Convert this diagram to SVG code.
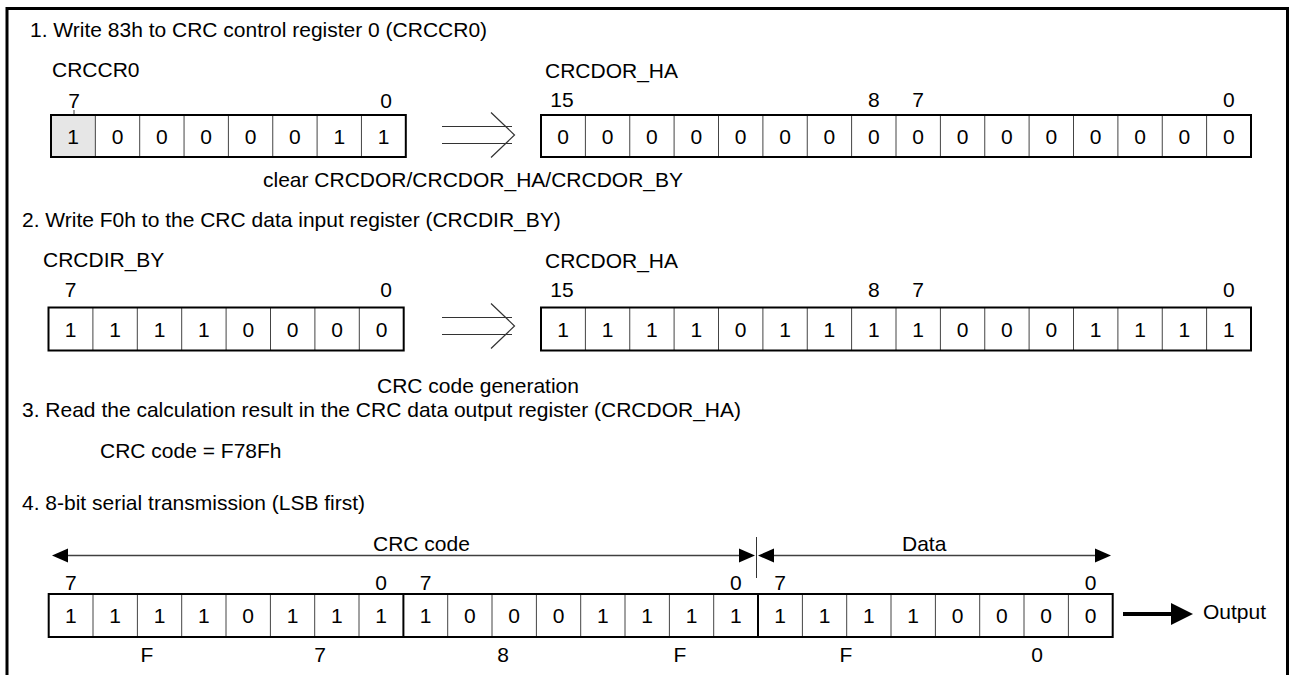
<svg xmlns="http://www.w3.org/2000/svg" width="1290" height="675" viewBox="0 0 1290 675">
<style>
.t{font-family:"Liberation Sans",Arial,sans-serif;font-size:21px;fill:#000}
.c{text-anchor:middle}
.box{fill:none;stroke:#000;stroke-width:2}
.dv{stroke:#444;stroke-width:1}
.bd{stroke:#000;stroke-width:2}
.thin{fill:none;stroke:#333;stroke-width:1.2}
.ln{stroke:#404040;stroke-width:1.5}
.hd{fill:#000}
</style>
<rect width="1290" height="675" fill="#fff"/>
<path d="M7,680 V8.5 H1287.5 V680" fill="none" stroke="#000" stroke-width="3"/>

<g id="step1">
<text class="t" x="30" y="37">1. Write 83h to CRC control register 0 (CRCCR0)</text>
</g>
<g id="crccr0">
<text class="t" x="52" y="77">CRCCR0</text>
<text class="t c" x="74" y="108">7</text>
<text class="t c" x="386" y="108">0</text>
<line x1="74" y1="110" x2="74" y2="114" class="dv"/>
<rect x="51" y="115" width="44.35" height="42" fill="#e6e6e6"/>
<g class="dv">
<line x1="95.35" y1="115" x2="95.35" y2="157"/><line x1="139.7" y1="115" x2="139.7" y2="157"/><line x1="184.05" y1="115" x2="184.05" y2="157"/><line x1="228.4" y1="115" x2="228.4" y2="157"/><line x1="272.75" y1="115" x2="272.75" y2="157"/><line x1="317.1" y1="115" x2="317.1" y2="157"/><line x1="361.45" y1="115" x2="361.45" y2="157"/>
</g>
<rect x="51" y="115" width="354.8" height="42" class="box"/>
<g class="t c">
<text x="73.2" y="143.5">1</text><text x="117.5" y="143.5">0</text><text x="161.9" y="143.5">0</text><text x="206.2" y="143.5">0</text><text x="250.6" y="143.5">0</text><text x="294.9" y="143.5">0</text><text x="339.3" y="143.5">1</text><text x="383.6" y="143.5">1</text>
</g>
<text class="t" x="263" y="187">clear CRCDOR/CRCDOR_HA/CRCDOR_BY</text>
</g>
<g id="crcdor_ha_1">
<text class="t" x="545" y="78">CRCDOR_HA</text>
<text class="t c" x="562" y="107">15</text>
<text class="t c" x="873.8" y="107">8</text>
<text class="t c" x="918.2" y="107">7</text>
<text class="t c" x="1228.8" y="107">0</text>
<g class="dv">
<line x1="585.4" y1="115" x2="585.4" y2="157"/><line x1="629.75" y1="115" x2="629.75" y2="157"/><line x1="674.1" y1="115" x2="674.1" y2="157"/><line x1="718.5" y1="115" x2="718.5" y2="157"/><line x1="762.9" y1="115" x2="762.9" y2="157"/><line x1="807.25" y1="115" x2="807.25" y2="157"/><line x1="851.6" y1="115" x2="851.6" y2="157"/><line x1="896" y1="115" x2="896" y2="157"/><line x1="940.4" y1="115" x2="940.4" y2="157"/><line x1="984.75" y1="115" x2="984.75" y2="157"/><line x1="1029.1" y1="115" x2="1029.1" y2="157"/><line x1="1073.5" y1="115" x2="1073.5" y2="157"/><line x1="1117.9" y1="115" x2="1117.9" y2="157"/><line x1="1162.25" y1="115" x2="1162.25" y2="157"/><line x1="1206.6" y1="115" x2="1206.6" y2="157"/>
</g>
<rect x="541" y="115" width="710" height="42" class="box"/>
<g class="t c">
<text x="563.2" y="143.5">0</text><text x="607.6" y="143.5">0</text><text x="651.9" y="143.5">0</text><text x="696.3" y="143.5">0</text><text x="740.7" y="143.5">0</text><text x="785.1" y="143.5">0</text><text x="829.4" y="143.5">0</text><text x="873.8" y="143.5">0</text><text x="918.2" y="143.5">0</text><text x="962.6" y="143.5">0</text><text x="1006.9" y="143.5">0</text><text x="1051.3" y="143.5">0</text><text x="1095.7" y="143.5">0</text><text x="1140.1" y="143.5">0</text><text x="1184.4" y="143.5">0</text><text x="1228.8" y="143.5">0</text>
</g>
</g>

<g id="step2">
<text class="t" x="22" y="227">2. Write F0h to the CRC data input register (CRCDIR_BY)</text>
</g>
<g id="crcdir_by">
<text class="t" x="43" y="267">CRCDIR_BY</text>
<text class="t c" x="70.7" y="297">7</text>
<text class="t c" x="386" y="297">0</text>
<g class="dv">
<line x1="92.9" y1="307.5" x2="92.9" y2="350.5"/><line x1="137.3" y1="307.5" x2="137.3" y2="350.5"/><line x1="181.7" y1="307.5" x2="181.7" y2="350.5"/><line x1="226.1" y1="307.5" x2="226.1" y2="350.5"/><line x1="270.5" y1="307.5" x2="270.5" y2="350.5"/><line x1="314.9" y1="307.5" x2="314.9" y2="350.5"/><line x1="359.3" y1="307.5" x2="359.3" y2="350.5"/>
</g>
<rect x="48.5" y="307.5" width="355.2" height="43" class="box"/>
<g class="t c">
<text x="70.7" y="336.5">1</text><text x="115.1" y="336.5">1</text><text x="159.5" y="336.5">1</text><text x="203.9" y="336.5">1</text><text x="248.3" y="336.5">0</text><text x="292.7" y="336.5">0</text><text x="337.1" y="336.5">0</text><text x="381.5" y="336.5">0</text>
</g>
<text class="t" x="377" y="393">CRC code generation</text>
</g>
<g id="crcdor_ha_2">
<text class="t" x="545" y="268">CRCDOR_HA</text>
<text class="t c" x="562" y="297">15</text>
<text class="t c" x="873.8" y="297">8</text>
<text class="t c" x="918.2" y="297">7</text>
<text class="t c" x="1228.8" y="297">0</text>
<g class="dv">
<line x1="585.4" y1="307.5" x2="585.4" y2="350.5"/><line x1="629.75" y1="307.5" x2="629.75" y2="350.5"/><line x1="674.1" y1="307.5" x2="674.1" y2="350.5"/><line x1="718.5" y1="307.5" x2="718.5" y2="350.5"/><line x1="762.9" y1="307.5" x2="762.9" y2="350.5"/><line x1="807.25" y1="307.5" x2="807.25" y2="350.5"/><line x1="851.6" y1="307.5" x2="851.6" y2="350.5"/><line x1="896" y1="307.5" x2="896" y2="350.5"/><line x1="940.4" y1="307.5" x2="940.4" y2="350.5"/><line x1="984.75" y1="307.5" x2="984.75" y2="350.5"/><line x1="1029.1" y1="307.5" x2="1029.1" y2="350.5"/><line x1="1073.5" y1="307.5" x2="1073.5" y2="350.5"/><line x1="1117.9" y1="307.5" x2="1117.9" y2="350.5"/><line x1="1162.25" y1="307.5" x2="1162.25" y2="350.5"/><line x1="1206.6" y1="307.5" x2="1206.6" y2="350.5"/>
</g>
<rect x="541" y="307.5" width="710" height="43" class="box"/>
<g class="t c">
<text x="563.2" y="336.5">1</text><text x="607.6" y="336.5">1</text><text x="651.9" y="336.5">1</text><text x="696.3" y="336.5">1</text><text x="740.7" y="336.5">0</text><text x="785.1" y="336.5">1</text><text x="829.4" y="336.5">1</text><text x="873.8" y="336.5">1</text><text x="918.2" y="336.5">1</text><text x="962.6" y="336.5">0</text><text x="1006.9" y="336.5">0</text><text x="1051.3" y="336.5">0</text><text x="1095.7" y="336.5">1</text><text x="1140.1" y="336.5">1</text><text x="1184.4" y="336.5">1</text><text x="1228.8" y="336.5">1</text>
</g>
</g>

<g id="step3">
<text class="t" x="22" y="417">3. Read the calculation result in the CRC data output register (CRCDOR_HA)</text>
<text class="t" x="100" y="458">CRC code = F78Fh</text>
</g>

<g id="step4">
<text class="t" x="22" y="510">4. 8-bit serial transmission (LSB first)</text>
</g>
<g id="serial">
<text class="t" x="373" y="551">CRC code</text>
<text class="t" x="902" y="551">Data</text>
<g class="t c">
<text x="70.9" y="590">7</text><text x="381.2" y="590">0</text><text x="425.5" y="590">7</text><text x="735.9" y="590">0</text><text x="780.2" y="590">7</text><text x="1090.5" y="590">0</text>
</g>
<g class="dv">
<line x1="93" y1="594" x2="93" y2="637"/><line x1="137.4" y1="594" x2="137.4" y2="637"/><line x1="181.7" y1="594" x2="181.7" y2="637"/><line x1="226" y1="594" x2="226" y2="637"/><line x1="270.4" y1="594" x2="270.4" y2="637"/><line x1="314.7" y1="594" x2="314.7" y2="637"/><line x1="359" y1="594" x2="359" y2="637"/>
<line x1="447.7" y1="594" x2="447.7" y2="637"/><line x1="492" y1="594" x2="492" y2="637"/><line x1="536.4" y1="594" x2="536.4" y2="637"/><line x1="580.7" y1="594" x2="580.7" y2="637"/><line x1="625" y1="594" x2="625" y2="637"/><line x1="669.4" y1="594" x2="669.4" y2="637"/><line x1="713.7" y1="594" x2="713.7" y2="637"/>
<line x1="802.4" y1="594" x2="802.4" y2="637"/><line x1="846.7" y1="594" x2="846.7" y2="637"/><line x1="891" y1="594" x2="891" y2="637"/><line x1="935.4" y1="594" x2="935.4" y2="637"/><line x1="979.7" y1="594" x2="979.7" y2="637"/><line x1="1024" y1="594" x2="1024" y2="637"/><line x1="1068.4" y1="594" x2="1068.4" y2="637"/>
</g>
<line x1="403.4" y1="594" x2="403.4" y2="637" class="bd"/>
<line x1="758" y1="594" x2="758" y2="637" class="bd"/>
<rect x="48.7" y="594" width="1064" height="43" class="box"/>
<g class="t c">
<text x="70.9" y="623">1</text><text x="115.2" y="623">1</text><text x="159.5" y="623">1</text><text x="203.9" y="623">1</text><text x="248.2" y="623">0</text><text x="292.5" y="623">1</text><text x="336.9" y="623">1</text><text x="381.2" y="623">1</text>
<text x="425.5" y="623">1</text><text x="469.9" y="623">0</text><text x="514.2" y="623">0</text><text x="558.5" y="623">0</text><text x="602.9" y="623">1</text><text x="647.2" y="623">1</text><text x="691.5" y="623">1</text><text x="735.9" y="623">1</text>
<text x="780.2" y="623">1</text><text x="824.5" y="623">1</text><text x="868.9" y="623">1</text><text x="913.2" y="623">1</text><text x="957.5" y="623">0</text><text x="1001.9" y="623">0</text><text x="1046.2" y="623">0</text><text x="1090.5" y="623">0</text>
</g>
<g class="t c">
<text x="147" y="662">F</text><text x="320" y="662">7</text><text x="503" y="662">8</text><text x="680" y="662">F</text><text x="846" y="662">F</text><text x="1037" y="662">0</text>
</g>
<text class="t" x="1203" y="619">Output</text>
</g>

<g id="connectors">
<g class="thin">
<path d="M442,126.5 H512 M442,143.5 H512 M491,112.5 L514.5,135 L491,157.5"/>
<path d="M442,317.5 H512 M442,334.5 H512 M491,303.5 L514.5,326 L491,348.5"/>
</g>
<line x1="60" y1="555.5" x2="746" y2="555.5" class="ln"/>
<polygon points="52,555.5 68,548.5 68,562.5" class="hd"/>
<polygon points="755,555.5 739,548.5 739,562.5" class="hd"/>
<line x1="756.5" y1="537" x2="756.5" y2="578" stroke="#333" stroke-width="1"/>
<line x1="766" y1="555.5" x2="1102" y2="555.5" class="ln"/>
<polygon points="758,555.5 774,548.5 774,562.5" class="hd"/>
<polygon points="1111,555.5 1095,548.5 1095,562.5" class="hd"/>
<line x1="1123" y1="614" x2="1175" y2="614" stroke="#000" stroke-width="4"/>
<polygon points="1171,603 1193,614 1171,625" class="hd"/>
</g>
</svg>
